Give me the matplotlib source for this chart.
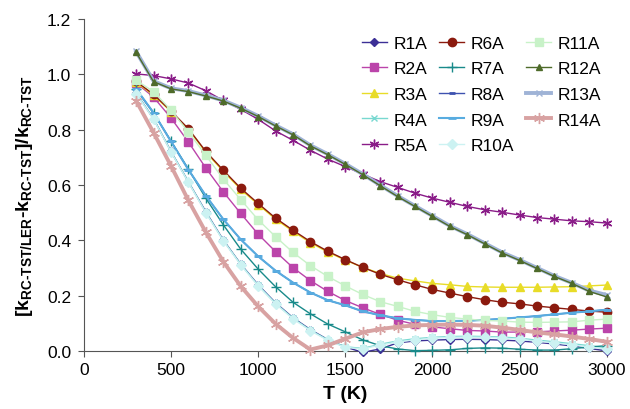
import matplotlib
matplotlib.use("Agg")
import matplotlib.pyplot as plt

plt.rcParams['font.family'] = ['Liberation Sans', 'DejaVu Sans']
plt.rcParams['mathtext.fontset'] = 'custom'
plt.rcParams['mathtext.rm'] = 'Liberation Sans:bold'
plt.rcParams['mathtext.it'] = 'Liberation Sans:bold'
plt.rcParams['mathtext.bf'] = 'Liberation Sans:bold'
plt.rcParams['mathtext.default'] = 'rm'

# temperature grid (K)
T = list(range(300, 3001, 100))

r1 = [0.933, 0.840, 0.722, 0.612, 0.504, 0.402, 0.315, 0.240, 0.175, 0.121, 0.078, 0.042, 0.015, -0.004,
      0.008, 0.030, 0.037, 0.040, 0.042, 0.043, 0.042, 0.040, 0.037, 0.032, 0.026, 0.019, 0.010, 0.001]
r2 = [0.970, 0.918, 0.843, 0.756, 0.662, 0.576, 0.498, 0.423, 0.360, 0.302, 0.255, 0.216, 0.183, 0.157,
      0.133, 0.112, 0.097, 0.088, 0.081, 0.075, 0.073, 0.069, 0.069, 0.070, 0.073, 0.076, 0.080, 0.083]
r3 = [0.972, 0.925, 0.866, 0.802, 0.719, 0.650, 0.585, 0.530, 0.477, 0.433, 0.392, 0.358, 0.329, 0.303,
      0.281, 0.264, 0.254, 0.245, 0.240, 0.234, 0.232, 0.231, 0.231, 0.231, 0.232, 0.233, 0.236, 0.239]
r4 = [0.933, 0.840, 0.722, 0.612, 0.502, 0.401, 0.314, 0.238, 0.173, 0.119, 0.076, 0.041, 0.016, 0.010,
      0.025, 0.037, 0.045, 0.050, 0.053, 0.054, 0.053, 0.051, 0.047, 0.040, 0.034, 0.027, 0.020, 0.012]
r5 = [1.002, 0.996, 0.984, 0.969, 0.941, 0.906, 0.874, 0.838, 0.796, 0.762, 0.726, 0.694, 0.667, 0.640,
      0.613, 0.592, 0.571, 0.553, 0.538, 0.523, 0.511, 0.502, 0.492, 0.483, 0.477, 0.471, 0.468, 0.463]
r6 = [0.975, 0.928, 0.868, 0.804, 0.722, 0.654, 0.589, 0.534, 0.481, 0.437, 0.396, 0.361, 0.331, 0.303,
      0.278, 0.258, 0.240, 0.223, 0.210, 0.197, 0.186, 0.177, 0.171, 0.163, 0.157, 0.151, 0.145, 0.141]
r7 = [0.946, 0.860, 0.760, 0.658, 0.553, 0.457, 0.369, 0.297, 0.233, 0.177, 0.135, 0.098, 0.070, 0.041,
      0.020, 0.008, 0.002, 0.003, 0.005, 0.010, 0.012, 0.011, 0.007, 0.004, 0.004, 0.009, 0.015, 0.020]
r8 = [0.948, 0.862, 0.758, 0.656, 0.562, 0.477, 0.404, 0.343, 0.291, 0.248, 0.212, 0.184, 0.166, 0.144,
      0.130, 0.119, 0.113, 0.109, 0.109, 0.110, 0.113, 0.117, 0.122, 0.127, 0.133, 0.139, 0.144, 0.150]
r9 = [0.948, 0.862, 0.758, 0.656, 0.562, 0.477, 0.404, 0.343, 0.291, 0.248, 0.212, 0.184, 0.166, 0.144,
      0.130, 0.119, 0.113, 0.109, 0.109, 0.110, 0.113, 0.117, 0.122, 0.127, 0.133, 0.139, 0.144, 0.150]
r10 = [0.931, 0.838, 0.720, 0.610, 0.500, 0.399, 0.312, 0.236, 0.171, 0.117, 0.074, 0.039, 0.014, 0.008,
       0.022, 0.033, 0.041, 0.047, 0.050, 0.051, 0.050, 0.048, 0.043, 0.036, 0.030, 0.023, 0.015, 0.008]
r11 = [0.979, 0.938, 0.871, 0.792, 0.708, 0.622, 0.548, 0.475, 0.414, 0.357, 0.309, 0.270, 0.236, 0.205,
       0.179, 0.162, 0.144, 0.132, 0.122, 0.116, 0.111, 0.109, 0.105, 0.104, 0.105, 0.106, 0.112, 0.116]
r12 = [1.080, 0.974, 0.948, 0.938, 0.922, 0.904, 0.878, 0.848, 0.814, 0.782, 0.742, 0.710, 0.675, 0.638,
       0.598, 0.559, 0.523, 0.487, 0.451, 0.421, 0.388, 0.355, 0.328, 0.299, 0.270, 0.245, 0.216, 0.196]
r13 = [1.083, 0.976, 0.950, 0.940, 0.924, 0.906, 0.880, 0.850, 0.816, 0.784, 0.744, 0.712, 0.677, 0.640,
       0.600, 0.561, 0.525, 0.489, 0.453, 0.423, 0.390, 0.357, 0.330, 0.301, 0.272, 0.247, 0.219, 0.203]
r14 = [0.905, 0.790, 0.670, 0.545, 0.430, 0.324, 0.235, 0.162, 0.099, 0.048, 0.006, 0.021, 0.045, 0.068,
       0.080, 0.088, 0.093, 0.095, 0.096, 0.095, 0.092, 0.085, 0.077, 0.068, 0.061, 0.053, 0.044, 0.034]

series = [
    ("R1A", r1, '#3C2F96', 'D', 4, 1.0),
    ("R2A", r2, '#BB44AA', 's', 5.5, 1.0),
    ("R3A", r3, '#E8DC28', '^', 6, 1.0),
    ("R4A", r4, '#78D8D0', 'x', 5, 1.0),
    ("R5A", r5, '#8A1C88', (6, 2, 0), 7, 1.0),
    ("R6A", r6, '#8B1A0E', 'o', 6, 1.0),
    ("R7A", r7, '#198A8A', '+', 7, 1.0),
    ("R8A", r8, '#3E52B0', '_', 5, 1.0),
    ("R9A", r9, '#58ACE0', '_', 6, 1.5),
    ("R10A", r10, '#CCF2F2', 'D', 5, 1.0),
    ("R11A", r11, '#C8F2C8', 's', 5.5, 1.0),
    ("R12A", r12, '#4E6B2A', '^', 4, 1.0),
    ("R13A", r13, '#9FB3D6', 'x', 5, 2.8),
    ("R14A", r14, '#D8A2A2', (6, 2, 0), 8, 2.8),
]

fig = plt.figure(figsize=(6.3, 4.1), dpi=100)
ax = fig.add_axes([0.133, 0.141, 0.83, 0.81])

for i, (name, vals, color, marker, ms, lw) in enumerate(series):
    z = 3 + i
    if name == "R12A":
        z = 20
    mew = 2.0 if marker == '_' else 1.0
    ax.plot(T, vals, color=color, marker=marker, markersize=ms, linewidth=lw,
            markeredgewidth=mew, label=name, zorder=z, clip_on=False)

ax.set_xlim(0, 3000)
ax.set_ylim(0, 1.2)
ax.set_xticks(range(0, 3001, 500))
ax.set_yticks([0.0, 0.2, 0.4, 0.6, 0.8, 1.0, 1.2])
ax.set_yticklabels(['0.0', '0.2', '0.4', '0.6', '0.8', '1.0', '1.2'])
ax.tick_params(labelsize=12.5, direction='out', length=4, color='#555555')
ax.tick_params(axis='y', pad=5)
ax.spines['top'].set_visible(False)
ax.spines['right'].set_visible(False)
ax.spines['left'].set_color('#555555')
ax.spines['bottom'].set_color('#555555')

ax.set_xlabel("T (K)", fontsize=14, fontweight='bold', labelpad=6)
ax.set_ylabel(r'$[k_{RC\text{-}TST/LER}\text{-}k_{RC\text{-}TST}]/k_{RC\text{-}TST}$',
              fontsize=14)
ax.yaxis.set_label_coords(-0.093, 0.47)

ax.legend(ncol=3, loc='upper right', bbox_to_anchor=(1.02, 0.997), frameon=False,
          fontsize=12.5, handlelength=1.45, handletextpad=0.38, columnspacing=0.68,
          labelspacing=0.6)

fig.savefig("out.png", dpi=100)
